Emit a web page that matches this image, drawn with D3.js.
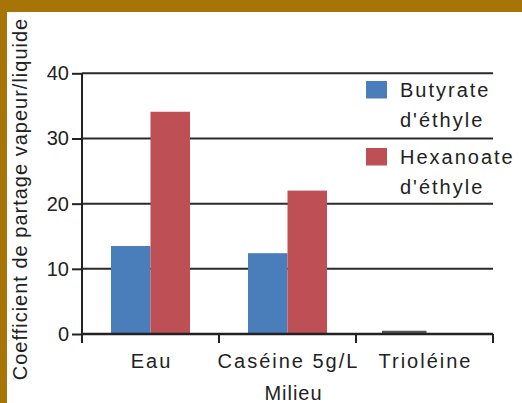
<!DOCTYPE html>
<html>
<head>
<meta charset="utf-8">
<script src="https://cdn.jsdelivr.net/npm/d3@7"></script>
<style>
  body { margin: 0; background: #a67407; }
  svg { display: block; }
  text { font-family: "Liberation Sans", Arial, sans-serif; fill: #222; }
</style>
</head>
<body>
<div id="chart"></div>
<script>
// data
let milieux = ["Eau", "Caséine 5g/L", "Trioléine"];
let series = ["Butyrate d'éthyle", "Hexanoate d'éthyle"];
let butyrate = [13.5, 12.4, 0.5];
let hexanoate = [34.1, 22.0, 0];
let yTicks = [0, 10, 20, 30, 40];
let colors = ["#4a7ebb", "#be4f55"];

let svgWidth = 522;
let svgHeight = 403;

let svg = d3.select("#chart")
    .append("svg")
    .attr("width", svgWidth)
    .attr("height", svgHeight);

// white sheet inside the brown frame
svg.append("rect")
    .attr("x", 7)
    .attr("y", 12)
    .attr("width", svgWidth - 7)
    .attr("height", svgHeight - 12)
    .attr("fill", "#fff");

// plot area
let plotLeft = 82, plotRight = 493, plotTop = 73.3, plotBottom = 334;

let x0 = d3.scaleBand()
    .domain(milieux)
    .range([plotLeft, plotRight])
    .padding(0);

let x1 = d3.scaleBand()
    .domain(series)
    .range([0, x0.bandwidth()])
    .paddingInner(0)
    .paddingOuter(0.734);

let y = d3.scaleLinear()
    .domain([0, 40])
    .range([plotBottom, plotTop]);

// gridlines
svg.append("g")
    .selectAll("line")
    .data(yTicks)
    .enter()
    .append("line")
    .attr("x1", plotLeft)
    .attr("x2", plotRight)
    .attr("y1", d => y(d))
    .attr("y2", d => y(d))
    .attr("stroke", "#2a2a2a")
    .attr("stroke-width", 2);

// bars
let rows = milieux.map((m, i) => ({ m: m, vals: [butyrate[i], hexanoate[i]] }));

let groups = svg.append("g")
    .selectAll("g")
    .data(rows)
    .enter()
    .append("g")
    .attr("transform", d => `translate(${x0(d.m)},0)`);

groups.selectAll("rect")
    .data(d => d.vals.map((v, j) => ({ s: series[j], v: v, j: j })).filter(d => d.v > 0))
    .enter()
    .append("rect")
    .attr("x", d => x1(d.s) - (d.v < 1 ? 3 : 0))
    .attr("width", d => x1.bandwidth() + (d.v < 1 ? 5 : 0))
    .attr("y", d => y(d.v))
    .attr("height", d => y(0) - y(d.v))
    .attr("fill", d => d.v < 1 ? "#555" : colors[d.j]);

// y axis
let leftAxis = d3.axisLeft(y)
    .tickValues(yTicks)
    .tickSizeInner(10)
    .tickSizeOuter(0)
    .tickPadding(3);

let yAxis = svg.append("g")
    .attr("transform", `translate(${plotLeft},0)`)
    .call(leftAxis);
yAxis.select(".domain").remove();
yAxis.selectAll("line").attr("stroke", "#222").attr("stroke-width", 2);
yAxis.selectAll("text")
    .style("font-size", "20px")
    .attr("fill", "#222");

// y axis line going a bit below zero
svg.append("line")
    .attr("x1", plotLeft).attr("x2", plotLeft)
    .attr("y1", plotTop).attr("y2", plotBottom + 9)
    .attr("stroke", "#222")
    .attr("stroke-width", 2);

// x axis line and ticks at the band edges
svg.append("line")
    .attr("x1", plotLeft).attr("x2", plotRight)
    .attr("y1", y(0)).attr("y2", y(0))
    .attr("stroke", "#222")
    .attr("stroke-width", 2.5);

let edges = milieux.map(m => x0(m)).concat([plotRight]);
svg.append("g")
    .selectAll("line")
    .data(edges)
    .enter()
    .append("line")
    .attr("x1", d => d).attr("x2", d => d)
    .attr("y1", y(0)).attr("y2", y(0) + 9)
    .attr("stroke", "#222")
    .attr("stroke-width", 2);

// category labels
svg.append("g")
    .selectAll("text")
    .data(milieux)
    .enter()
    .append("text")
    .attr("x", d => x0(d) + x0.bandwidth() / 2 + 1)
    .attr("y", 368)
    .attr("text-anchor", "middle")
    .style("font-size", "20px")
    .style("letter-spacing", "2px")
    .text(d => d);

// axis titles
svg.append("text")
    .attr("x", (plotLeft + plotRight) / 2 + 6)
    .attr("y", 400)
    .attr("text-anchor", "middle")
    .style("font-size", "20px")
    .style("letter-spacing", "1px")
    .text("Milieu");

svg.append("text")
    .attr("transform", "translate(27,199) rotate(-90)")
    .attr("text-anchor", "middle")
    .style("font-size", "20px")
    .style("letter-spacing", "1px")
    .text("Coefficient de partage vapeur/liquide");

// legend
let legend = svg.append("g")
    .selectAll("g")
    .data(series)
    .enter()
    .append("g")
    .attr("transform", (d, i) => `translate(366,${81 + i * 67})`);

legend.append("rect")
    .attr("width", 21)
    .attr("height", 17.5)
    .attr("fill", (d, i) => colors[i]);

legend.each(function(d) {
    let words = d.split(" ");
    let t = d3.select(this).append("text")
        .attr("x", 34)
        .attr("y", 16)
        .style("font-size", "20px")
        .style("letter-spacing", "2px");
    t.append("tspan").attr("x", 34).text(words[0]);
    t.append("tspan").attr("x", 34).attr("dy", 29.5).text(words[1]);
});
</script>
</body>
</html>
